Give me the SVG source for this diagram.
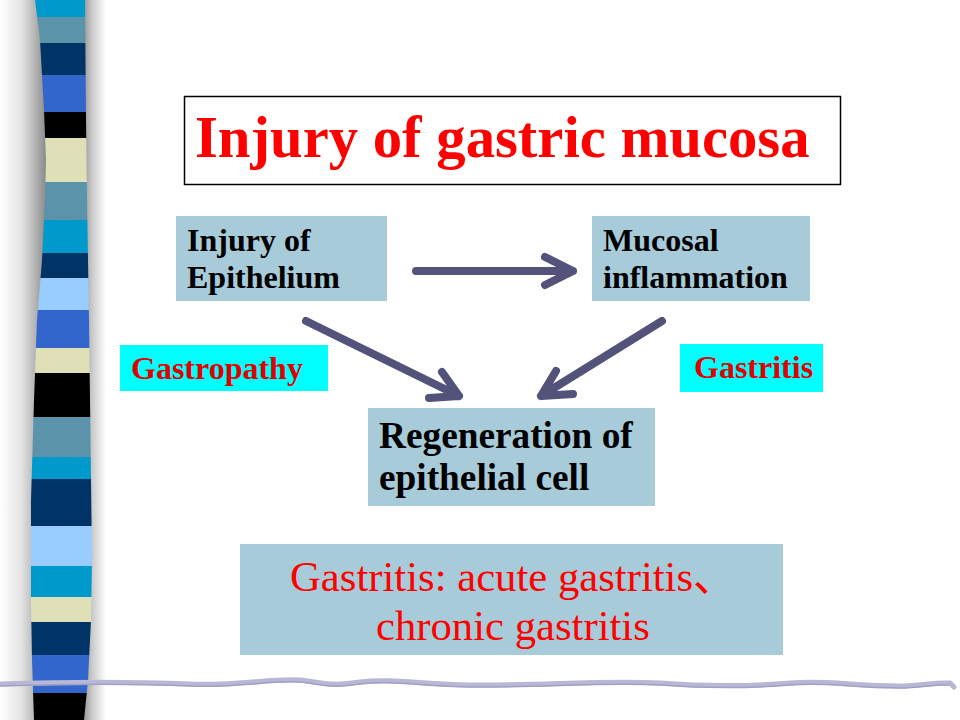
<svg xmlns="http://www.w3.org/2000/svg" width="960" height="720" viewBox="0 0 960 720">
<defs>
<linearGradient id="shL" x1="0" y1="0" x2="1" y2="0">
<stop offset="0" stop-color="#ffffff"/>
<stop offset="0.45" stop-color="#e4e4e4"/>
<stop offset="0.75" stop-color="#b4b4b4"/>
<stop offset="1" stop-color="#868686"/>
</linearGradient>
<linearGradient id="shR" x1="0" y1="0" x2="1" y2="0">
<stop offset="0" stop-color="#8c8c8c"/>
<stop offset="0.4" stop-color="#c8c8c8"/>
<stop offset="1" stop-color="#ffffff"/>
</linearGradient>
<clipPath id="stripClip">
<path d="M35,0 L40,40 L44,110 L46,160 L45,200 L42,260 L37,320 L34,400 L31,500 L31,600 L32,660 L34,720 L84,720 L88,680 L91,620 L92,560 L91,480 L90,400 L89,320 L87,200 L86,120 L85,0 Z"/>
</clipPath>
</defs>
<style>
.box{fill:#a8cbd9}
.tag{fill:#00ffff}
.b{font-family:"Liberation Serif","Times New Roman",serif;font-weight:bold}
.r{font-family:"Liberation Serif","Times New Roman",serif}
.cjk{font-family:"Noto Sans CJK SC",sans-serif}
.arr{fill:none;stroke:#52527a;stroke-width:8;stroke-linecap:round;stroke-linejoin:round}
</style>
<rect width="960" height="720" fill="#ffffff"/>
<g id="decoration">
<rect x="0" y="0" width="47" height="720" fill="url(#shL)"/>
<rect x="82" y="0" width="24" height="720" fill="url(#shR)"/>
<g clip-path="url(#stripClip)">
<rect x="0" y="0" width="110" height="17" fill="#0099cc"/>
<rect x="0" y="17" width="110" height="26" fill="#5b93ab"/>
<rect x="0" y="43" width="110" height="32" fill="#003366"/>
<rect x="0" y="75" width="110" height="37" fill="#3366cc"/>
<rect x="0" y="112" width="110" height="26" fill="#000000"/>
<rect x="0" y="138" width="110" height="44" fill="#e0e0b8"/>
<rect x="0" y="182" width="110" height="38" fill="#5b93ab"/>
<rect x="0" y="220" width="110" height="33" fill="#0099cc"/>
<rect x="0" y="253" width="110" height="25" fill="#003366"/>
<rect x="0" y="278" width="110" height="32" fill="#99ccff"/>
<rect x="0" y="310" width="110" height="38" fill="#3366cc"/>
<rect x="0" y="348" width="110" height="25" fill="#e0e0b8"/>
<rect x="0" y="373" width="110" height="44" fill="#000000"/>
<rect x="0" y="417" width="110" height="40" fill="#5b93ab"/>
<rect x="0" y="457" width="110" height="22" fill="#0099cc"/>
<rect x="0" y="479" width="110" height="47" fill="#003366"/>
<rect x="0" y="526" width="110" height="40" fill="#99ccff"/>
<rect x="0" y="566" width="110" height="31" fill="#0099cc"/>
<rect x="0" y="597" width="110" height="25" fill="#e0e0b8"/>
<rect x="0" y="622" width="110" height="33" fill="#003366"/>
<rect x="0" y="655" width="110" height="38" fill="#3366cc"/>
<rect x="0" y="693" width="110" height="27" fill="#000000"/>
</g>
<path d="M0,684 C60,682 120,681 190,684 C240,686 270,678 300,680 C320,682 330,687 360,682 C390,678 420,684 470,685 C540,686 600,680 660,683 C700,686 740,687 790,683 C830,680 850,686 900,686 C920,686 935,682 950,683 L954,687" fill="none" stroke="#b8b8d6" stroke-width="5" stroke-linecap="round"/>
<path d="M0,686 C60,684 120,683 190,686 C240,688 270,680 300,682 C320,684 330,689 360,684 C390,680 420,686 470,687 C540,688 600,682 660,685 C700,688 740,689 790,685 C830,682 850,688 900,688 C920,688 935,684 950,685" fill="none" stroke="#a0a0c4" stroke-width="1.5"/>
</g>
<g id="title">
<rect x="184.5" y="96.5" width="656" height="88" fill="#ffffff" stroke="#000000" stroke-width="1.5"/>
<text x="195" y="157" class="b" font-size="58.7" fill="#ff0000">Injury of gastric mucosa</text>
</g>
<g id="connectors">
<path class="arr" d="M416,271 L573,271 M545,257 L573,271 L545,285"/>
<path class="arr" d="M306,321 L459,396 M442,372 L459,396 L429,398"/>
<path class="arr" d="M662,321 L541,396 M556,371 L541,396 L573,394"/>
</g>
<g id="injury-epithelium">
<rect class="box" x="176" y="216" width="211" height="85"/>
<text class="b" font-size="32" fill="#000000"><tspan x="187" y="251">Injury of</tspan><tspan x="187" y="288">Epithelium</tspan></text>
</g>
<g id="mucosal-inflammation">
<rect class="box" x="592" y="216" width="218" height="85"/>
<text class="b" font-size="32" fill="#000000"><tspan x="603" y="251">Mucosal</tspan><tspan x="603" y="288">inflammation</tspan></text>
</g>
<g id="gastropathy">
<rect class="tag" x="120" y="345" width="208" height="46"/>
<text x="131" y="379" class="b" font-size="32" fill="#e00000">Gastropathy</text>
</g>
<g id="gastritis">
<rect class="tag" x="680" y="344" width="143" height="48"/>
<text x="694" y="378" class="b" font-size="32" fill="#e00000">Gastritis</text>
</g>
<g id="regeneration">
<rect class="box" x="368" y="408" width="287" height="98"/>
<text class="b" font-size="37.3" fill="#000000"><tspan x="379" y="448">Regeneration of</tspan><tspan x="379" y="490">epithelial cell</tspan></text>
</g>
<g id="gastritis-types">
<rect class="box" x="240" y="544" width="543" height="111"/>
<text class="r" font-size="42.7" fill="#ff0000"><tspan x="290" y="591">Gastritis: acute gastritis</tspan><tspan class="cjk">、</tspan><tspan x="376" y="640">chronic gastritis</tspan></text>
</g>
</svg>
